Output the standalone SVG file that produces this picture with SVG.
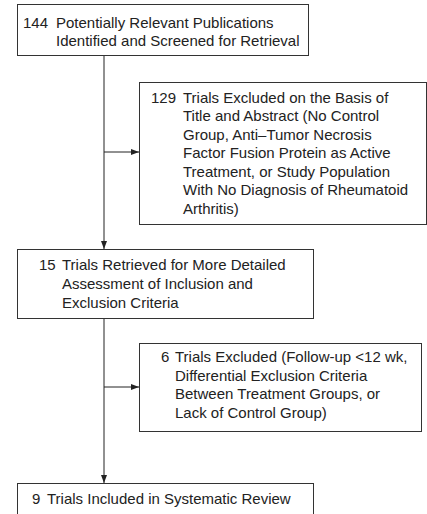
<svg xmlns="http://www.w3.org/2000/svg" width="427" height="514" viewBox="0 0 427 514">
<style>
.box{fill:#fff;stroke:#333;stroke-width:1}
.t{font-family:"Liberation Sans",Arial,sans-serif;font-size:15px;fill:#222}
.ln{stroke:#222;stroke-width:1;fill:none}
</style>
<defs>
<marker id="ah" markerWidth="8" markerHeight="6" refX="8" refY="3" orient="auto" markerUnits="userSpaceOnUse">
<path d="M0,0 L8,3 L0,6 Z" fill="#222"/>
</marker>
</defs>
<rect width="427" height="514" fill="#fff"/>
<g id="connectors">
<line class="ln" x1="104" y1="55" x2="104" y2="249" marker-end="url(#ah)"/>
<line class="ln" x1="104" y1="152" x2="139" y2="152" marker-end="url(#ah)"/>
<line class="ln" x1="104" y1="318" x2="104" y2="483" marker-end="url(#ah)"/>
<line class="ln" x1="104" y1="387" x2="139" y2="387" marker-end="url(#ah)"/>
</g>
<g id="n1">
<rect class="box" x="17.5" y="4.5" width="291" height="51"/>
<text class="t" x="23" y="27.5">144</text>
<text class="t" x="56" y="27.5">Potentially Relevant Publications</text>
<text class="t" x="56" y="45.5">Identified and Screened for Retrieval</text>
</g>
<g id="n2">
<rect class="box" x="139.5" y="82.5" width="287" height="142"/>
<text class="t" x="151" y="102.5">129</text>
<text class="t" x="183" y="102.5">Trials Excluded on the Basis of</text>
<text class="t" x="183" y="121">Title and Abstract (No Control</text>
<text class="t" x="183" y="139.5">Group, Anti–Tumor Necrosis</text>
<text class="t" x="183" y="158">Factor Fusion Protein as Active</text>
<text class="t" x="183" y="176.5">Treatment, or Study Population</text>
<text class="t" x="183" y="195">With No Diagnosis of Rheumatoid</text>
<text class="t" x="183" y="213.5">Arthritis)</text>
</g>
<g id="n3">
<rect class="box" x="17.5" y="249.5" width="296" height="69"/>
<text class="t" x="39" y="270">15</text>
<text class="t" x="62" y="270">Trials Retrieved for More Detailed</text>
<text class="t" x="62" y="289">Assessment of Inclusion and</text>
<text class="t" x="62" y="308">Exclusion Criteria</text>
</g>
<g id="n4">
<rect class="box" x="139.5" y="343.5" width="282" height="88"/>
<text class="t" x="161" y="362">6</text>
<text class="t" x="175" y="362">Trials Excluded (Follow-up &lt;12 wk,</text>
<text class="t" x="175" y="380.5">Differential Exclusion Criteria</text>
<text class="t" x="175" y="399">Between Treatment Groups, or</text>
<text class="t" x="175" y="417.5">Lack of Control Group)</text>
</g>
<g id="n5">
<rect class="box" x="17.5" y="483.5" width="296" height="40"/>
<text class="t" x="32" y="504">9</text>
<text class="t" x="47" y="504">Trials Included in Systematic Review</text>
</g>
</svg>
